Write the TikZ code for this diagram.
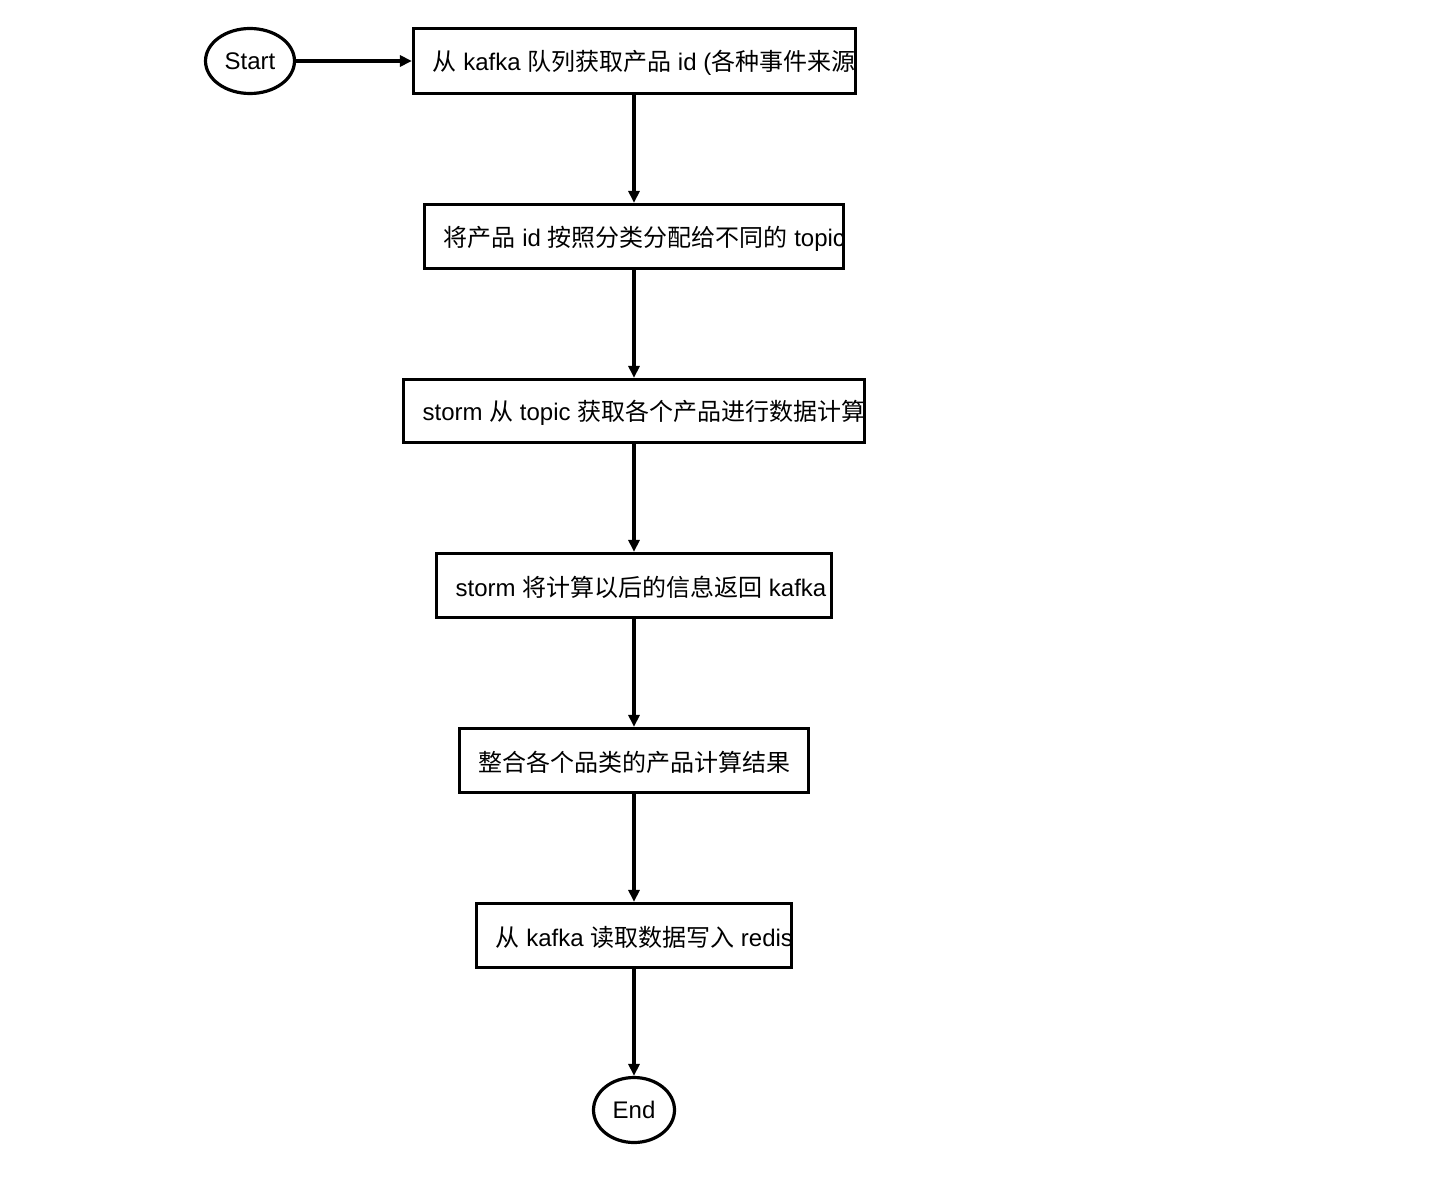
\documentclass[tikz,border=0pt]{standalone}
\usepackage{fontspec}
\setmainfont{Liberation Sans}
\newfontfamily\cjk{Noto Sans CJK SC}
\usetikzlibrary{shapes.geometric,arrows.meta}
\tikzset{
  boxline/.style={line width=3.2pt},
  flowbox/.style={boxline, draw, rectangle, inner sep=0pt, minimum height=64pt},
  flowtext/.style={anchor=west, inner sep=0pt},
  terminal/.style={boxline, draw, ellipse, inner sep=0pt, minimum height=65pt},
  conn/.style={boxline, -{Triangle[length=12pt,width=11pt]}}
}
\newcommand{\boxtext}[3]{%
  \begin{scope}
    \clip ([xshift=1.6pt,yshift=-1.6pt]#1.north west) rectangle ([xshift=-1.6pt,yshift=1.6pt]#1.south east);
    \node[flowtext] (#2) at ([xshift=20.5pt,yshift=-2pt]#1.west) {#3};
  \end{scope}}
\begin{document}
\begin{tikzpicture}[x=1pt,y=-1pt,font=\fontsize{24}{29}\selectfont]
\useasboundingbox (0,0) rectangle (1448,1204);
\node[terminal, minimum width=89pt] (start) at (250,61) {Start};
\node[flowbox, minimum width=442pt, minimum height=65pt] (b1) at (634.5,61) {};
\node[flowbox, minimum width=419pt] (b2) at (634,236.5) {};
\node[flowbox, minimum width=461pt, minimum height=63pt] (b3) at (634,411) {};
\node[flowbox, minimum width=395pt] (b4) at (634,585.5) {};
\node[flowbox, minimum width=349pt] (b5) at (634,760.5) {};
\node[flowbox, minimum width=315pt] (b6) at (634,935.5) {};
\node[terminal, minimum width=81pt] (end) at (634,1110) {End};
\boxtext{b1}{t1}{{\cjk 从} kafka {\cjk 队列获取产品} id ({\cjk 各种事件来源})}
\boxtext{b2}{t2}{{\cjk 将产品} id {\cjk 按照分类分配给不同的} topic}
\boxtext{b3}{t3}{storm {\cjk 从} topic {\cjk 获取各个产品进行数据计算}}
\boxtext{b4}{t4}{storm {\cjk 将计算以后的信息返回} kafka}
\boxtext{b5}{t5}{{\cjk 整合各个品类的产品计算结果}}
\boxtext{b6}{t6}{{\cjk 从} kafka {\cjk 读取数据写入} redis}
\draw[conn] (start) -- (b1);
\draw[conn] (b1.south -| end) -- (b2.north -| end);
\draw[conn] (b2.south -| end) -- (b3.north -| end);
\draw[conn] (b3) -- (b4);
\draw[conn] (b4) -- (b5);
\draw[conn] (b5) -- (b6);
\draw[conn] (b6) -- (end);
\end{tikzpicture}
\end{document}
